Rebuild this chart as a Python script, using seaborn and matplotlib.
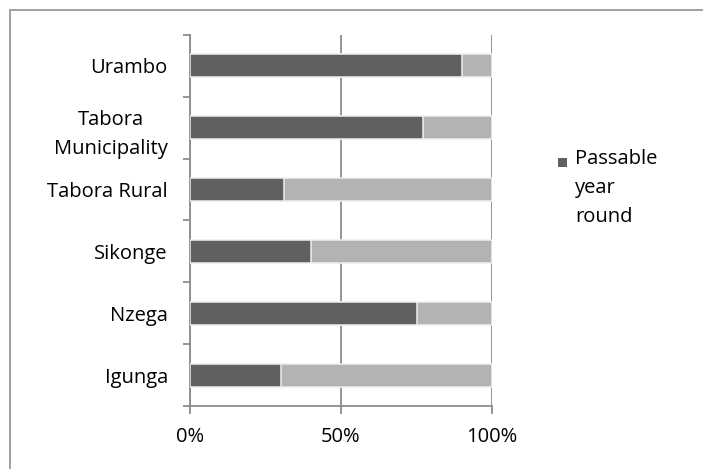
import matplotlib
matplotlib.use("Agg")
import matplotlib.pyplot as plt
from matplotlib.patches import Rectangle, Patch
from matplotlib.lines import Line2D
from matplotlib.legend_handler import HandlerPatch
import numpy as np
import pandas as pd
import seaborn as sns

# Share of roads passable all year, by district (percent)
districts = ["Urambo", "Tabora\nMunicipality", "Tabora Rural", "Sikonge", "Nzega", "Igunga"]
passable_year_round = [90, 77, 31, 40, 75, 30]
not_year_round = [10, 23, 69, 60, 25, 70]
x_ticks = [0, 50, 100]
x_tick_labels = ["0%", "50%", "100%"]
legend_label = "Passable\nyear\nround"

DARK = "#606060"
LIGHT = "#b3b3b3"
GRID = "#8c8c8c"
EDGE = "#efefef"
FS = 14.5
LINESPACING = 1.6

sns.set_theme(style="white")
plt.rcParams["font.family"] = ["Open Sans", "DejaVu Sans"]

df = pd.DataFrame({
    "district": districts,
    "passable": passable_year_round,
    "other": not_year_round,
})
df["total"] = df["passable"] + df["other"]

W, H = 703, 469
fig = plt.figure(figsize=(W / 100, H / 100), dpi=100)
ax = fig.add_axes([190 / W, 1 - 406 / H, 302 / W, 371 / H])

# stacked bars: full-length light bar underneath, dark share on top
sns.barplot(data=df, y="district", x="total", color=LIGHT, saturation=1,
            width=0.37, edgecolor=EDGE, linewidth=1.1, ax=ax, zorder=2)
sns.barplot(data=df, y="district", x="passable", color=DARK, saturation=1,
            width=0.37, edgecolor=EDGE, linewidth=1.1, ax=ax, zorder=3)

ax.set_xlim(0, 100)
ax.set_ylim(5.5, -0.5)
ax.set_xlabel("")
ax.set_ylabel("")

ax.set_axisbelow(True)
ax.xaxis.grid(True, color=GRID, linewidth=1.3)
ax.yaxis.grid(False)

for side in ("top", "right"):
    ax.spines[side].set_visible(False)
for side in ("left", "bottom"):
    ax.spines[side].set_color(GRID)
    ax.spines[side].set_linewidth(1.3)

ax.set_xticks(x_ticks, x_tick_labels)
ax.tick_params(axis="x", which="major", bottom=True, length=6, width=1.3,
               color=GRID, pad=9, labelsize=FS, labelcolor="black")

ax.set_yticks(np.arange(-0.5, len(districts), 1.0), minor=True)
ax.tick_params(axis="y", which="major", left=False, length=0, pad=16,
               labelsize=FS, labelcolor="black")
ax.tick_params(axis="y", which="minor", left=True, length=5, width=1.3,
               color=GRID)
for lab in ax.get_yticklabels():
    lab.set_multialignment("center")
    lab.set_linespacing(LINESPACING)


def square_handle(legend, orig_handle, xdescent, ydescent, width, height, fontsize):
    # square marker lifted so it sits beside the first line of the label
    size = 6.5
    return Rectangle((-xdescent, -ydescent + 19.0), size, size)


handle = Patch(facecolor=DARK, edgecolor="none")
leg = fig.legend(
    handles=[handle], labels=[legend_label],
    loc="center left", bbox_to_anchor=(558 / W, 1 - 188 / H),
    frameon=False, fontsize=FS, borderpad=0, borderaxespad=0,
    handlelength=0.45, handleheight=0.45, handletextpad=0.4,
    handler_map={Patch: HandlerPatch(patch_func=square_handle)},
)
for t in leg.get_texts():
    t.set_linespacing(LINESPACING)
    t.set_color("black")

# chart-area border (left and top edges)
border_kw = dict(color="#a0a0a0", linewidth=1.4, transform=fig.transFigure)
fig.add_artist(Line2D([10 / W, 10 / W], [0, 1 - 10 / H], **border_kw))
fig.add_artist(Line2D([10 / W, 1.0], [1 - 10 / H, 1 - 10 / H], **border_kw))

fig.savefig("out.png", dpi=100)
